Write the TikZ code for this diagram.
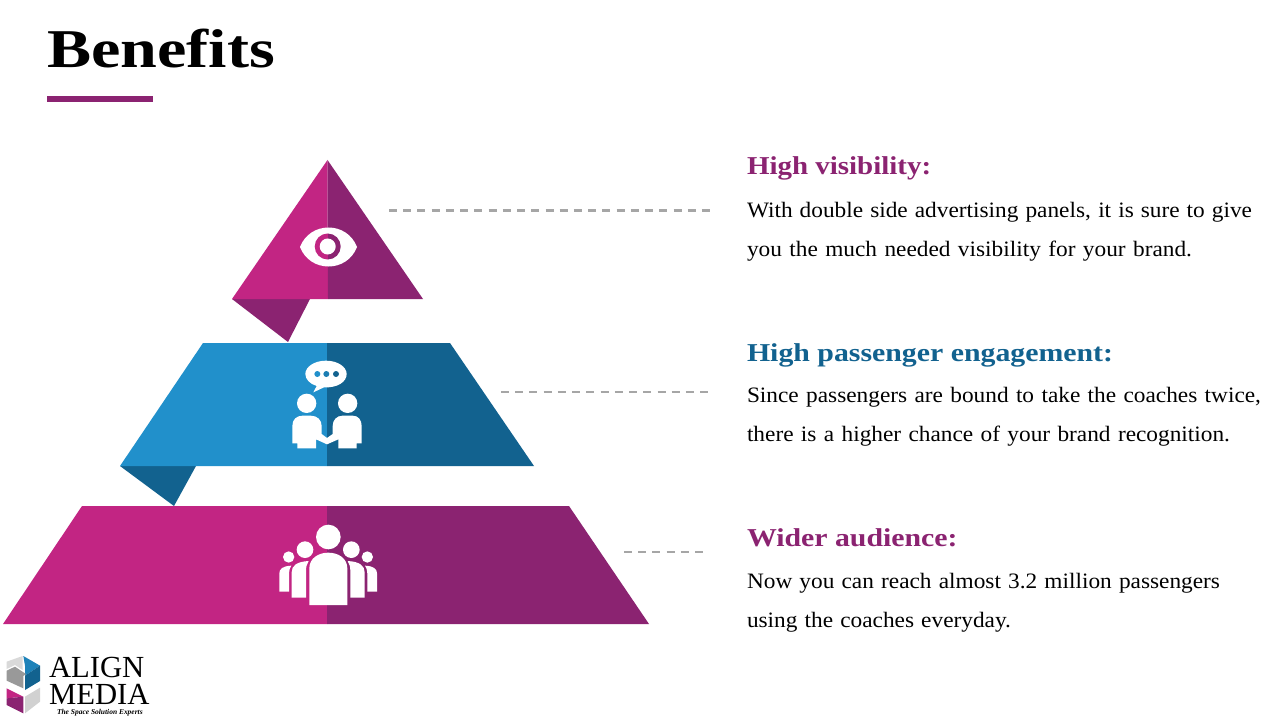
\documentclass[tikz,border=0pt]{standalone}
\usepackage{fontspec}
\setmainfont{Liberation Serif}
\newfontfamily\titleface[FakeStretch=1.21]{Liberation Serif}
\newfontfamily\headface[FakeStretch=1.125]{Liberation Serif}
\newfontfamily\bodyface[FakeStretch=1.06]{Liberation Serif}
\definecolor{mag}{HTML}{C22583}
\definecolor{pur}{HTML}{8B2371}
\definecolor{blu}{HTML}{2190CB}
\definecolor{dblu}{HTML}{12628F}
\newcommand{\bodyline}[2]{\makebox[#1pt][s]{#2}}
\tikzset{
  txt/.style={anchor=base west,inner sep=0pt,outer sep=0pt},
  titletxt/.style={txt,font=\titleface\bfseries\fontsize{41}{41}\selectfont},
  headtxt/.style={txt,font=\headface\bfseries\fontsize{19.3}{19.3}\selectfont},
  bodytxt/.style={txt,font=\bodyface\fontsize{16.5}{16.5}\selectfont},
  guide/.style={draw=black!35,line width=1.6pt,dash pattern=on 6pt off 4.67pt},
  logotxt/.style={txt,font=\fontsize{23}{23}\selectfont,text height=15pt,text depth=0pt},
}
\begin{document}
\begin{tikzpicture}[x=0.75pt,y=-0.75pt]
\useasboundingbox (0,0) rectangle (1280,720);
\fill[white] (0,0) rectangle (1280,720);
% title
\node[titletxt] (title) at (47,68) {Benefits};
\fill[pur] (47,96) rectangle (153,102);
% top triangle
\fill[pur] (232,299) -- (310,299) -- (288,342) -- cycle;
\fill[mag] (327.5,160) -- (232,299) -- (328,299) -- cycle;
\fill[pur] (327.5,160) -- (423,299) -- (328,299) -- cycle;
\fill[white] (300,247) .. controls (310,221) and (347,221) .. (357,247) .. controls (347,273) and (310,273) .. (300,247) -- cycle;
\begin{scope}
\clip (300,225) rectangle (328,270);
\fill[mag] (327.7,246.5) circle[radius=13];
\end{scope}
\begin{scope}
\clip (328,225) rectangle (356,270);
\fill[pur] (327.7,246.5) circle[radius=13];
\end{scope}
\fill[white] (327.7,246.5) circle[radius=8];
% middle trapezoid
\fill[dblu] (120,466) -- (196,466) -- (174,506) -- cycle;
\fill[blu] (203,343) -- (327,343) -- (327,466) -- (120,466) -- cycle;
\fill[dblu] (327,343) -- (450,343) -- (534,466) -- (327,466) -- cycle;
% bottom trapezoid
\fill[mag] (82,506) -- (327,506) -- (327,624) -- (3,624) -- cycle;
\fill[pur] (327,506) -- (569,506) -- (649,624) -- (327,624) -- cycle;
% people icon
\begin{scope}[shift={(260,350)},x=0.25pt,y=-0.25pt]
\fill[white] (198,32) .. controls (164,32) and (136,50) .. (136,72) .. controls (136,88) and (150,102) .. (170,108) -- (160,127) -- (192,112) .. controls (232,114) and (260,96) .. (260,72) .. controls (260,50) and (232,32) .. (198,32) -- cycle;
\fill[blu] (172,72) circle[radius=9];
\fill[blu!60!dblu] (199,72) circle[radius=9];
\fill[dblu] (228,72) circle[radius=9];
\fill[white] (140,160) circle[radius=29];
\fill[white] (263,160) circle[radius=29];
\fill[white] (97,228) .. controls (97,208) and (110,197) .. (128,197) -- (152,197) .. controls (172,197) and (185,210) .. (185,228) -- (185,252) -- (201,264) -- (218,252) -- (218,228) .. controls (218,210) and (230,197) .. (248,197) -- (278,197) .. controls (295,197) and (305,210) .. (305,228) -- (305,280) -- (290,280) -- (290,295) -- (235,295) -- (235,268) -- (201,283) -- (168,268) -- (168,295) -- (112,295) -- (112,280) -- (97,280) -- cycle;
\end{scope}
% crowd icon
\begin{scope}[shift={(260,515)},x=0.25pt,y=-0.25pt]
\fill[white] (205,66) circle[radius=37];
\fill[white] (135,104) circle[radius=25];
\fill[white] (274,104) circle[radius=25];
\fill[white] (86,126) circle[radius=17];
\fill[white] (322,126) circle[radius=17];
\fill[white] (148,270) -- (148,160) .. controls (148,130) and (175,113) .. (205,113) .. controls (235,113) and (262,130) .. (262,160) -- (262,270) -- cycle;
\fill[white] (95,248) -- (95,172) .. controls (95,152) and (110,140) .. (146,138) .. controls (140,148) and (138,155) .. (138,170) -- (138,248) -- cycle;
\fill[white] (314,248) -- (314,172) .. controls (314,152) and (299,140) .. (263,138) .. controls (269,148) and (271,155) .. (271,170) -- (271,248) -- cycle;
\fill[white] (58,230) -- (58,175) .. controls (58,162) and (68,153) .. (94,152) .. controls (90,158) and (87,165) .. (87,175) -- (87,230) -- cycle;
\fill[white] (351,230) -- (351,175) .. controls (351,162) and (341,153) .. (315,152) .. controls (319,158) and (322,165) .. (322,175) -- (322,230) -- cycle;
\end{scope}
% guides
\coordinate (g1a) at (389,210.5); \coordinate (g1b) at (710,210.5);
\coordinate (g2a) at (501,392); \coordinate (g2b) at (710,392);
\coordinate (g3a) at (624,552); \coordinate (g3b) at (705,552);
\draw[guide] (g1a) -- (g1b);
\draw[guide] (g2a) -- (g2b);
\draw[guide] (g3a) -- (g3b);
% right text
\node[headtxt,text=pur] (h1) at (747,175) {High visibility:};
\node[bodytxt] (b1a) at (747,217.5) {\bodyline{378.75}{With double side advertising panels, it is sure to give}};
\node[bodytxt] (b1b) at (747,256.5) {\bodyline{333.75}{you the much needed visibility for your brand.}};
\node[headtxt,text=dblu] (h2) at (747,361) {\scalebox{1.03}[1]{High passenger engagement:}};
\node[bodytxt] (b2a) at (747,402) {\bodyline{385.5}{Since passengers are bound to take the coaches twice,}};
\node[bodytxt] (b2b) at (747,441) {\bodyline{362.25}{there is a higher chance of your brand recognition.}};
\node[headtxt,text=pur] (h3) at (747,546) {\scalebox{1.03}[1]{Wider audience:}};
\node[bodytxt] (b3a) at (747,588) {\bodyline{354.75}{Now you can reach almost 3.2 million passengers}};
\node[bodytxt] (b3b) at (747,627) {\bodyline{198}{using the coaches everyday.}};
% logo
\begin{scope}[shift={(0,645)},x=0.25pt,y=-0.25pt]
\fill[blu!70!dblu] (70,33) -- (120,62) -- (75,92) -- (75,62) -- cycle;
\fill[dblu] (75,92) -- (120,62) -- (120,108) -- (75,135) -- cycle;
\fill[black!15] (20,50) -- (68,33) -- (68,75) -- (45,60) -- (20,72) -- cycle;
\fill[black!40] (20,77) -- (45,65) -- (78,87) -- (70,93) -- (70,130) -- (20,107) -- cycle;
\fill[mag] (20,130) -- (70,155) -- (20,160) -- cycle;
\fill[pur] (20,160) -- (70,155) -- (70,205) -- (20,180) -- cycle;
\fill[black!18] (75,155) -- (120,128) -- (120,170) -- (75,205) -- cycle;
\end{scope}
\node[logotxt] (logoa) at (49,677) {ALIGN};
\node[logotxt] (logob) at (49,704) {MEDIA};
\node[txt,font=\bfseries\itshape\fontsize{5.6}{5.6}\selectfont,text height=4pt,text depth=0pt] (logoc) at (57,714) {The Space Solution Experts};
\end{tikzpicture}
\end{document}
